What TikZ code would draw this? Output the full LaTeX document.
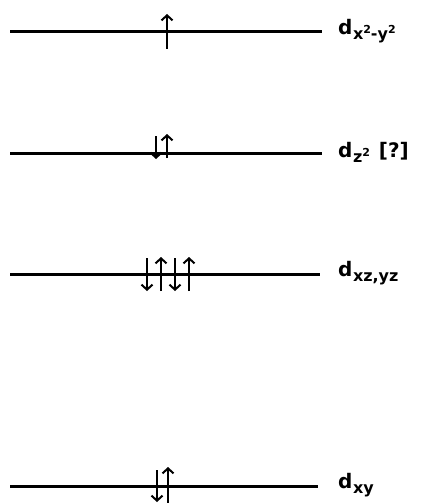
\documentclass[tikz,border=0pt]{standalone}
\usepackage{fontspec}
\setmainfont{DejaVu Sans}
\usetikzlibrary{arrows.meta}

\newcommand{\orb}[1]{d\kern0.5pt\raisebox{-5pt}{\fontsize{16}{17}\selectfont #1}}
\newcommand{\sqr}{\raisebox{6pt}{\fontsize{11}{12}\selectfont 2}}

\begin{document}
\begin{tikzpicture}[
    x=1pt, y=-1pt,
    level/.style={line width=3pt},
    spin/.style={-{Straight Barb[length=5pt,width=11pt,line width=2pt]}, line width=2pt},
    orbital/.style={anchor=west, inner sep=0pt, font=\bfseries\fontsize{20}{24}\selectfont}
]
\useasboundingbox (0,0) rectangle (422,503);

% levels
\coordinate (a1) at (10,32);  \coordinate (a2) at (322,32);
\coordinate (b1) at (10,153); \coordinate (b2) at (322,153);
\coordinate (c1) at (10,274); \coordinate (c2) at (320,274);
\coordinate (e1) at (10,486); \coordinate (e2) at (318,486);

\draw[level] (a1) -- (a2);
\draw[level] (b1) -- (b2);
\draw[level] (c1) -- (c2);
\draw[level] (e1) -- (e2);

\node[orbital] (la) at (338,31) {\orb{x\sqr{}-y\sqr}};
\node[orbital] (lb) at (338,152) {\orb{z\sqr}\hspace{9pt}[?]};
\node[orbital] (lc) at (338,273) {\orb{xz,yz}};
\node[orbital] (le) at (338,485) {\orb{xy}};

% electrons
\draw[spin] (167,49) -- (167,14);

\draw[spin] (156,136) -- (156,159);
\draw[spin] (167,158) -- (167,134);

\draw[spin] (147,258) -- (147,291);
\draw[spin] (161,291) -- (161,257);
\draw[spin] (175,258) -- (175,291);
\draw[spin] (189,291) -- (189,257);

\draw[spin] (157,470) -- (157,502);
\draw[spin] (168,503) -- (168,467);
\end{tikzpicture}
\end{document}
